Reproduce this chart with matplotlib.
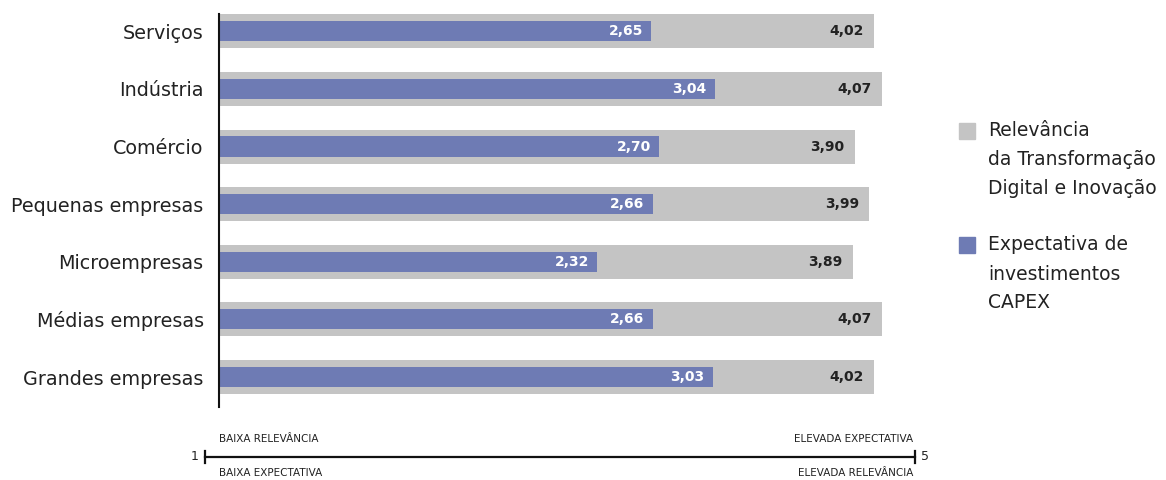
import matplotlib.pyplot as plt
from matplotlib.patches import Rectangle

categories = ["Serviços", "Indústria", "Comércio", "Pequenas empresas",
              "Microempresas", "Médias empresas", "Grandes empresas"]
relevancia = [4.02, 4.07, 3.90, 3.99, 3.89, 4.07, 4.02]
expectativa = [2.65, 3.04, 2.70, 2.66, 2.32, 2.66, 3.03]

GRAY = "#c4c4c4"
BLUE = "#6e7bb4"


def fmt(v):
    return f"{v:.2f}".replace(".", ",")


def main() -> None:
    fig = plt.figure(figsize=(11.66, 4.8), dpi=100)
    W, H = 1166, 480
    ax = fig.add_axes([219 / W, 1 - 407 / H, (163 * 4.4) / W, 393 / H])

    y = list(range(len(categories)))
    ax.barh(y, relevancia, height=0.59, color=GRAY)
    ax.barh(y, expectativa, height=0.35, color=BLUE)

    for yi, r, e in zip(y, relevancia, expectativa):
        ax.text(r - 0.065, yi, fmt(r), ha="right", va="center",
                fontsize=10, fontweight="bold", color="#222222")
        ax.text(e - 0.05, yi, fmt(e), ha="right", va="center",
                fontsize=10, fontweight="bold", color="white")

    ax.set_xlim(0, 4.4)
    ax.set_ylim(6.52, -0.3)
    ax.set_yticks(y)
    ax.set_yticklabels(categories, fontsize=13.8, color="#222222")
    ax.tick_params(axis="y", length=0, pad=11)
    ax.set_xticks([])
    for s in ["top", "right", "bottom"]:
        ax.spines[s].set_visible(False)
    ax.spines["left"].set_linewidth(1.5)
    ax.spines["left"].set_color("#111111")

    # legend
    items = [(GRAY, ["Relevância", "da Transformação", "Digital e Inovação"], 131),
             (BLUE, ["Expectativa de", "investimentos", "CAPEX"], 245)]
    for color, lines, ytop in items:
        fig.patches.append(Rectangle((959 / W, 1 - (ytop + 8) / H), 16 / W, 16 / H,
                                     transform=fig.transFigure, color=color))
        for i, line in enumerate(lines):
            fig.text(988 / W, 1 - (ytop + i * 29) / H, line, fontsize=13.5,
                     va="center", ha="left", color="#222222")

    # bottom scale
    ly = 1 - 457 / H
    fig.add_artist(plt.Line2D([205 / W, 915 / W], [ly, ly], color="#111111",
                              lw=1.6, transform=fig.transFigure))
    for xx in [205, 915]:
        fig.add_artist(plt.Line2D([xx / W, xx / W], [ly - 6 / H, ly + 6 / H],
                                  color="#111111", lw=1.6, transform=fig.transFigure))
    fig.text(199 / W, ly, "1", ha="right", va="center", fontsize=9, color="#222222")
    fig.text(921 / W, ly, "5", ha="left", va="center", fontsize=9, color="#222222")
    fig.text(219 / W, 1 - 439 / H, "BAIXA RELEVÂNCIA", ha="left", va="center",
             fontsize=7.5, color="#222222")
    fig.text(219 / W, 1 - 473 / H, "BAIXA EXPECTATIVA", ha="left", va="center",
             fontsize=7.5, color="#222222")
    fig.text(913 / W, 1 - 439 / H, "ELEVADA EXPECTATIVA", ha="right", va="center",
             fontsize=7.5, color="#222222")
    fig.text(913 / W, 1 - 473 / H, "ELEVADA RELEVÂNCIA", ha="right", va="center",
             fontsize=7.5, color="#222222")

    fig.savefig("out.png", dpi=100)


if __name__ == "__main__":
    main()
